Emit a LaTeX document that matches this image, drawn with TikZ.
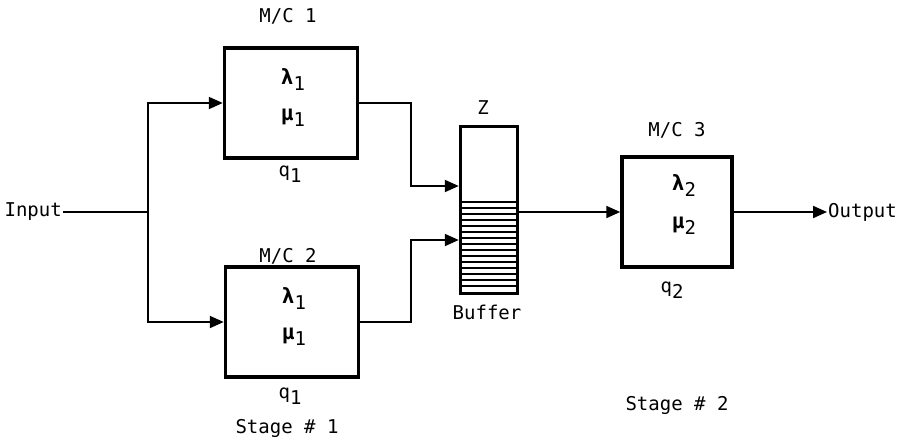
\documentclass[tikz,border=0pt]{standalone}
\usepackage{fontspec}
\setmainfont{DejaVu Sans Mono}
\usetikzlibrary{arrows.meta,positioning,calc}
\newcommand{\lowidx}[1]{\raisebox{-6pt}{#1}}

\begin{document}
\begin{tikzpicture}[x=1pt,y=-1pt,
  box/.style={draw,line width=3.5pt,minimum width=133pt,minimum height=110pt,inner sep=0pt},
  conn/.style={line width=2pt},
  arr/.style={conn,-{Triangle[length=14pt,width=12pt]}},
  lbl/.style={font=\fontsize{19}{22}\selectfont,inner sep=1pt},
  greek/.style={font=\fontsize{21}{24}\selectfont\bfseries,inner sep=1pt}]
  \useasboundingbox (0,0) rectangle (900,440); % page size
  % machines of stage 1 and 2
  \node[box] (mc1) at (291,103) {};
  \node[box] (mc2) at (292,322) {};
  \node[box,minimum width=110pt] (mc3) at (677,212) {};
  % buffer between the stages
  \node[draw,line width=3.5pt,minimum width=57pt,minimum height=167pt,inner sep=0pt] (buf) at (489,210) {};
  \foreach \y in {202,208,...,290}
    \draw[line width=1.4pt] (462,\y) -- (517,\y); % hatching of the filled part
  % texts in and around the boxes
  \node[lbl] (mc1t) at (288,16) {M/C 1};
  \node[greek] (lam1) at (293,80) {λ{\mdseries\fontsize{19}{22}\selectfont\lowidx{1}}};
  \node[greek] (mu1) at (293,118) {μ{\mdseries\fontsize{19}{22}\selectfont\lowidx{1}}};
  \node[lbl] (q1) at (290,174) {q\lowidx{1}};
  \node[lbl] (mc2t) at (288,256) {M/C 2};
  \node[greek] (lam2) at (294,299) {λ{\mdseries\fontsize{19}{22}\selectfont\lowidx{1}}};
  \node[greek] (mu2) at (294,337) {μ{\mdseries\fontsize{19}{22}\selectfont\lowidx{1}}};
  \node[lbl] (q3) at (290,396) {q\lowidx{1}};
  \node[lbl] (st1) at (287,428) {Stage \# 1};
  \node[lbl] (zt) at (483,108) {Z};
  \node[lbl] (buft) at (487,312) {Buffer};
  \node[lbl] (mc3t) at (677,130) {M/C 3};
  \node[greek] (lam3) at (684,186) {λ{\mdseries\fontsize{19}{22}\selectfont\lowidx{2}}};
  \node[greek] (mu3) at (684,226) {μ{\mdseries\fontsize{19}{22}\selectfont\lowidx{2}}};
  \node[lbl] (q2) at (672,290) {q\lowidx{2}};
  \node[lbl] (st2) at (677,405) {Stage \# 2};
  \node[lbl,anchor=east] (inp) at (63,212) {Input};
  \node[lbl,anchor=west] (outp) at (827,212) {Output};
  % connectors
  \coordinate (split) at (148,212);
  \coordinate (j1) at (411,186);
  \coordinate (j2) at (411,240);
  \draw[conn] (inp.east) -- (split);
  \draw[arr] (split) |- (mc1.west);
  \draw[arr] (split) |- (mc2.west);
  \draw[arr] (mc1.east) -| (j1) -- (j1 -| buf.west);
  \draw[arr] (mc2.east) -| (j2) -- (j2 -| buf.west);
  \draw[arr] (buf.east |- mc3.west) -- (mc3.west);
  \draw[arr] (mc3.east) -- (outp.west);
\end{tikzpicture}
\end{document}
